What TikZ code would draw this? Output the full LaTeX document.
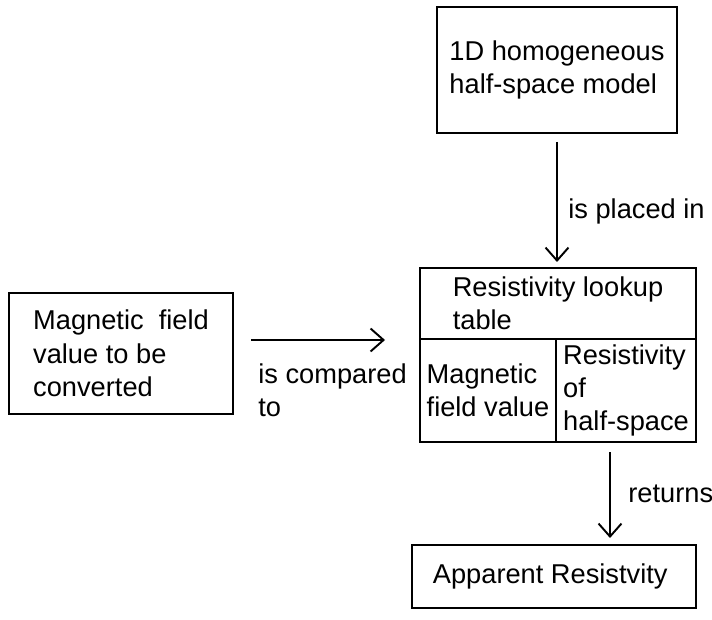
\documentclass[tikz,border=0pt]{standalone}
\usepackage{fontspec}
\setmainfont{Liberation Sans}
\usepackage{tikz}
\usetikzlibrary{arrows.meta,positioning,calc}

\begin{document}
\begin{tikzpicture}[
    font=\fontsize{15.5}{19}\selectfont,
    box/.style={rectangle, draw, line width=1.3pt, align=left, inner sep=0pt, outer sep=0pt},
    cell/.style={box, minimum height=2.06cm},
    lbl/.style={inner sep=0pt, align=left},
    arrow/.style={-{Straight Barb[length=0.26cm,width=0.46cm]}, line width=1.1pt}
]
\useasboundingbox (0,0) rectangle (14.24,12.38);

% Model
\node[box, minimum width=4.8cm, minimum height=2.52cm] (model) at (11.14,10.98) {
    1D homogeneous\\
    half-space model
};

% Lookup table
\node[box, minimum width=5.52cm, minimum height=1.42cm] (tablehead) at (11.16,6.31) {
    Resistivity lookup\\
    table
};
\node[cell, minimum width=2.72cm, anchor=north west] (fieldcol) at (tablehead.south west) {
    Magnetic\\
    field value
};
\node[cell, minimum width=2.8cm, anchor=north east] (rescol) at (tablehead.south east) {
    Resistivity\\
    of\\
    half-space
};

% Input value
\node[box, minimum width=4.48cm, minimum height=2.42cm] (magfield) at (2.42,5.31) {
    Magnetic\ \ field\\
    value to be\\
    converted
};

% Result
\node[box, minimum width=5.68cm, minimum height=1.26cm] (result) at (11.08,0.85) {
    Apparent Resistvity
};

% Arrows
\draw[arrow, shorten <=0.18cm, shorten >=0.12cm] (model.south) -- (model.south |- tablehead.north);
\draw[arrow, shorten <=0.36cm, shorten >=0.7cm] ([yshift=0.27cm]magfield.east) -- ([yshift=0.27cm]magfield.east -| fieldcol.west);
\draw[arrow, shorten <=0.2cm, shorten >=0.14cm] ([xshift=-0.32cm]rescol.south) -- ([xshift=-0.32cm]rescol.south |- result.north);

% Arrow labels
\node[lbl, anchor=base west] (placedlbl) at (11.36,8.0) {is placed in};
\node[lbl, anchor=north west] (comparedlbl) at (5.16,5.12) {is compared\\to};
\node[lbl, anchor=base west] (returnslbl) at (12.56,2.34) {returns};

\end{tikzpicture}
\end{document}
